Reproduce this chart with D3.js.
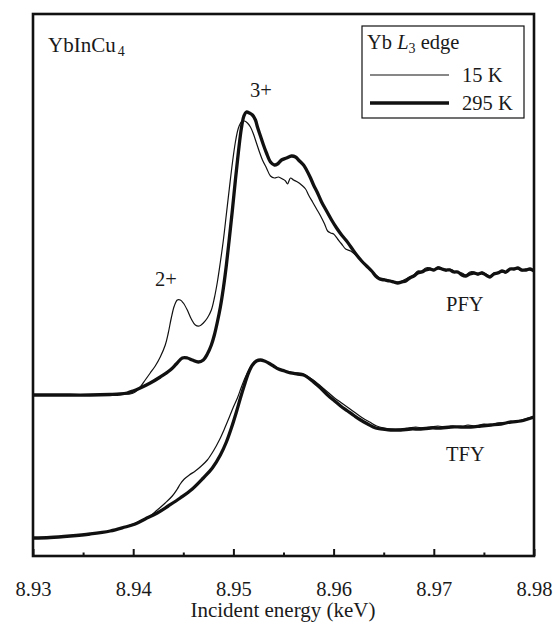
<!DOCTYPE html>
<html>
<head>
<meta charset="utf-8">
<script src="https://cdn.jsdelivr.net/npm/d3@7"></script>
<style>
  html, body { margin: 0; padding: 0; background: #fff; }
  svg text { font-family: "Liberation Serif", "Times New Roman", serif; fill: #1a1a1a; }
</style>
</head>
<body>
<svg id="chart" width="556" height="626"></svg>
<script>
// ---------------- data ----------------
const xTicks = [8.93, 8.94, 8.95, 8.96, 8.97, 8.98];
const xMinorTicks = [8.935, 8.945, 8.955, 8.965, 8.975];

// PFY, 295 K (thick)
const pfy295E = [8.9300,8.9327,8.9357,8.9377,8.9387,8.9394,8.9400,8.9407,8.9417,8.9427,8.9437,8.9443,8.9449,8.9454,8.9459,8.9465,8.9470,8.9474,8.9478,8.9481,8.9484,8.9487,8.9490,8.9493,8.9496,8.9499,8.9502,8.9505,8.9508,8.95105,8.9513,8.9516,8.9519,8.9522,8.9524,8.9527,8.9530,8.9533,8.9537,8.9541,8.9544,8.9548,8.9553,8.9558,8.9562,8.9566,8.9570,8.9573,8.9577,8.9580,8.9584,8.9588,8.9593,8.9598,8.9603,8.9608,8.9613,8.9618,8.9623,8.9628,8.9633,8.9638,8.9642,8.9646,8.9651,8.9656,8.9660,8.9664,8.9668,8.9672,8.9676,8.9680,8.9684,8.9688,8.9692,8.9696,8.9700,8.9704,8.9708,8.9712,8.9716,8.9720,8.9724,8.9728,8.9732,8.9736,8.9740,8.9744,8.9748,8.9752,8.9756,8.9760,8.9764,8.9768,8.9772,8.9776,8.9780,8.9784,8.9788,8.9792,8.9796,8.9800];
const pfy295I = [1.43,1.43,1.43,1.435,1.44,1.45,1.47,1.50,1.55,1.61,1.68,1.74,1.80,1.80,1.78,1.76,1.78,1.84,1.93,2.03,2.16,2.31,2.50,2.73,3.00,3.28,3.58,3.86,4.10,4.22,4.26,4.25,4.23,4.18,4.11,4.02,3.93,3.85,3.76,3.73,3.74,3.78,3.80,3.82,3.81,3.77,3.73,3.68,3.60,3.53,3.45,3.36,3.27,3.18,3.10,3.03,2.97,2.90,2.83,2.77,2.72,2.67,2.62,2.59,2.58,2.57,2.56,2.55,2.56,2.57,2.60,2.62,2.65,2.66,2.68,2.69,2.68,2.70,2.69,2.68,2.68,2.66,2.66,2.63,2.62,2.64,2.65,2.64,2.65,2.63,2.61,2.64,2.65,2.67,2.66,2.69,2.69,2.70,2.68,2.68,2.69,2.67];

// PFY, 15 K (thin)
const pfy15E = [8.9300,8.9327,8.9357,8.9377,8.9387,8.9397,8.9402,8.9407,8.9412,8.9417,8.9422,8.9427,8.9432,8.9435,8.9438,8.9441,8.9444,8.9447,8.9450,8.9454,8.9458,8.9462,8.9466,8.9470,8.9474,8.9478,8.9481,8.9484,8.9487,8.9490,8.9493,8.9496,8.9499,8.9502,8.9505,8.9508,8.9511,8.9514,8.9517,8.9520,8.9523,8.9526,8.9529,8.9533,8.9537,8.9541,8.9545,8.9549,8.9552,8.9554,8.9557,8.9560,8.9564,8.9568,8.9572,8.9575,8.9579,8.9583,8.9587,8.9591,8.9594,8.9597,8.9600,8.9604,8.9608,8.9612,8.9617,8.9623,8.9628,8.9633,8.9638,8.9642,8.9646,8.9651,8.9655,8.9659,8.9664,8.9668,8.9672,8.9676,8.9680,8.9684,8.9688,8.9692,8.9696,8.9700,8.9704,8.9708,8.9712,8.9716,8.9720,8.9724,8.9728,8.9732,8.9736,8.9740,8.9744,8.9748,8.9752,8.9756,8.9760,8.9764,8.9768,8.9772,8.9776,8.9780,8.9784,8.9788,8.9792,8.9796,8.9800];
const pfy15I = [1.43,1.43,1.43,1.435,1.44,1.44,1.46,1.51,1.58,1.65,1.72,1.81,1.93,2.05,2.20,2.32,2.38,2.38,2.35,2.28,2.19,2.13,2.12,2.15,2.20,2.28,2.40,2.56,2.76,2.98,3.24,3.50,3.75,3.96,4.10,4.16,4.17,4.15,4.11,4.04,3.95,3.86,3.78,3.70,3.62,3.60,3.61,3.59,3.57,3.54,3.60,3.58,3.56,3.53,3.49,3.43,3.36,3.29,3.22,3.14,3.07,3.05,3.04,2.99,2.94,2.89,2.87,2.82,2.77,2.71,2.67,2.63,2.60,2.59,2.58,2.57,2.56,2.57,2.59,2.61,2.63,2.67,2.67,2.70,2.70,2.68,2.71,2.70,2.67,2.69,2.67,2.65,2.65,2.63,2.66,2.66,2.63,2.66,2.64,2.62,2.65,2.66,2.66,2.65,2.68,2.70,2.69,2.67,2.69,2.68,2.67];

// TFY, 295 K (thick)
const tfy295E = [8.9300,8.9317,8.9337,8.9357,8.9377,8.9392,8.9402,8.9412,8.9424,8.9435,8.9447,8.9459,8.9470,8.9479,8.9487,8.9493,8.9498,8.9503,8.9507,8.9511,8.9515,8.9519,8.9523,8.9527,8.9531,8.9535,8.9540,8.9545,8.9551,8.9557,8.9564,8.9570,8.9575,8.9580,8.9587,8.9594,8.9601,8.9607,8.9614,8.9621,8.9627,8.9634,8.9642,8.9649,8.9657,8.9667,8.9677,8.9687,8.9697,8.9707,8.9717,8.9727,8.9737,8.9747,8.9757,8.9767,8.9777,8.9787,8.9794,8.9800];
const tfy295I = [0.00,0.005,0.02,0.04,0.07,0.11,0.14,0.19,0.25,0.32,0.40,0.49,0.60,0.70,0.83,0.96,1.10,1.26,1.40,1.53,1.65,1.73,1.77,1.78,1.77,1.75,1.72,1.69,1.67,1.65,1.64,1.63,1.60,1.56,1.50,1.43,1.37,1.32,1.27,1.22,1.18,1.14,1.10,1.09,1.08,1.08,1.09,1.09,1.10,1.10,1.11,1.11,1.11,1.12,1.13,1.14,1.16,1.17,1.19,1.21];

// TFY, 15 K (thin)
const tfy15E = [8.9300,8.9317,8.9337,8.9357,8.9377,8.9392,8.9400,8.9407,8.9417,8.9424,8.9432,8.9439,8.9444,8.9447,8.9451,8.9456,8.9462,8.9468,8.9474,8.9480,8.9486,8.9491,8.9496,8.9500,8.9504,8.9508,8.9512,8.9516,8.9520,8.9524,8.9528,8.9532,8.9536,8.9541,8.9546,8.9552,8.9558,8.9564,8.9570,8.9575,8.9581,8.9587,8.9594,8.9601,8.9608,8.9615,8.9622,8.9629,8.9636,8.9643,8.9650,8.9657,8.9667,8.9675,8.9682,8.9689,8.9697,8.9704,8.9712,8.9719,8.9727,8.9734,8.9742,8.9750,8.9757,8.9764,8.9772,8.9779,8.9787,8.9794,8.9800];
const tfy15I = [0.00,0.005,0.02,0.04,0.07,0.11,0.14,0.17,0.22,0.28,0.35,0.42,0.49,0.54,0.59,0.63,0.67,0.72,0.78,0.87,0.98,1.09,1.21,1.31,1.40,1.51,1.61,1.69,1.75,1.78,1.78,1.77,1.75,1.72,1.69,1.67,1.66,1.65,1.64,1.61,1.57,1.52,1.46,1.40,1.35,1.30,1.25,1.20,1.16,1.12,1.10,1.09,1.09,1.10,1.11,1.10,1.11,1.12,1.11,1.12,1.11,1.13,1.12,1.14,1.13,1.15,1.15,1.16,1.18,1.20,1.22];

const seriesNames = ["15 K", "295 K"];

// ---------------- layout ----------------
const svg = d3.select("#chart");
const mLeft = 33, mRight = 534, mTop = 14, mBottom = 556;

const x = d3.scaleLinear().domain([8.93, 8.98]).range([mLeft, mRight]);
const y = d3.scaleLinear().domain([-0.18, 5.24]).range([mBottom, mTop]);

const ink = "#111";
const fontFam = "'Liberation Serif', 'Times New Roman', serif";

svg.append("defs").append("clipPath").attr("id", "clip")
  .append("rect").attr("x", mLeft).attr("y", mTop).attr("width", mRight - mLeft).attr("height", mBottom - mTop);

const line = d3.line().x(d => x(d[0])).y(d => y(d[1])).curve(d3.curveCatmullRom.alpha(0.5));
const zip = (a, b) => a.map((v, i) => [v, b[i]]);

const curves = [
  { e: tfy295E, v: tfy295I, w: 3.3 },
  { e: tfy15E,  v: tfy15I,  w: 1.2 },
  { e: pfy295E, v: pfy295I, w: 3.3 },
  { e: pfy15E,  v: pfy15I,  w: 1.2 }
];
const g = svg.append("g").attr("clip-path", "url(#clip)");
curves.forEach(c => {
  g.append("path").datum(zip(c.e, c.v))
    .attr("d", line).attr("fill", "none").attr("stroke", ink)
    .attr("stroke-width", c.w).attr("stroke-linejoin", "round").attr("stroke-linecap", "round");
});

// frame
svg.append("rect").attr("x", mLeft).attr("y", mTop).attr("width", mRight - mLeft).attr("height", mBottom - mTop)
  .attr("fill", "none").attr("stroke", ink).attr("stroke-width", 2.6);

// x axis ticks (inward)
const xAxis = d3.axisBottom(x).tickValues(xTicks).tickSizeInner(-7).tickSizeOuter(0)
  .tickPadding(25).tickFormat(d3.format(".2f"));
const ax = svg.append("g").attr("transform", `translate(0,${mBottom})`).call(xAxis)
  .attr("font-family", fontFam);
ax.select(".domain").remove();
ax.selectAll(".tick line").attr("stroke", ink).attr("stroke-width", 2);
ax.selectAll(".tick text").attr("font-size", 20.5).attr("fill", "#1a1a1a")
  .style("font-family", fontFam);
const axm = svg.append("g").attr("transform", `translate(0,${mBottom})`)
  .call(d3.axisBottom(x).tickValues(xMinorTicks).tickSizeInner(-3.5).tickSizeOuter(0).tickFormat(""));
axm.select(".domain").remove();
axm.selectAll(".tick line").attr("stroke", ink).attr("stroke-width", 2);

// axis title
svg.append("text").attr("x", 283).attr("y", 617).attr("text-anchor", "middle")
  .attr("font-size", 21).text("Incident energy (keV)");

// compound label
const t1 = svg.append("text").attr("x", 48).attr("y", 52).attr("font-size", 21);
t1.append("tspan").text("YbInCu");
t1.append("tspan").attr("font-size", 14).attr("dy", 4).attr("dx", 2).text("4");

// peak labels
svg.append("text").attr("x", 250).attr("y", 97).attr("font-size", 20.5).text("3+");
svg.append("text").attr("x", 155).attr("y", 286).attr("font-size", 20.5).text("2+");
svg.append("text").attr("x", 446).attr("y", 311).attr("font-size", 20.5).text("PFY");
svg.append("text").attr("x", 446).attr("y", 461).attr("font-size", 20.5).text("TFY");

// legend
const lg = svg.append("g");
lg.append("rect").attr("x", 362).attr("y", 26).attr("width", 162).attr("height", 92)
  .attr("fill", "#fff").attr("stroke", ink).attr("stroke-width", 1.2);
const lt = lg.append("text").attr("x", 367).attr("y", 49).attr("font-size", 20.5);
lt.append("tspan").text("Yb ");
lt.append("tspan").attr("font-style", "italic").text("L");
lt.append("tspan").attr("font-size", 14).attr("dy", 4).text("3");
lt.append("tspan").attr("dy", -4).text(" edge");
const legendWidths = [1.2, 3.3];
seriesNames.forEach((name, i) => {
  const yy = 75 + i * 28;
  lg.append("line").attr("x1", 370).attr("x2", 449).attr("y1", yy).attr("y2", yy)
    .attr("stroke", ink).attr("stroke-width", legendWidths[i]);
  lg.append("text").attr("x", 462).attr("y", yy + 7).attr("font-size", 20.5).text(name);
});
</script>
</body>
</html>
